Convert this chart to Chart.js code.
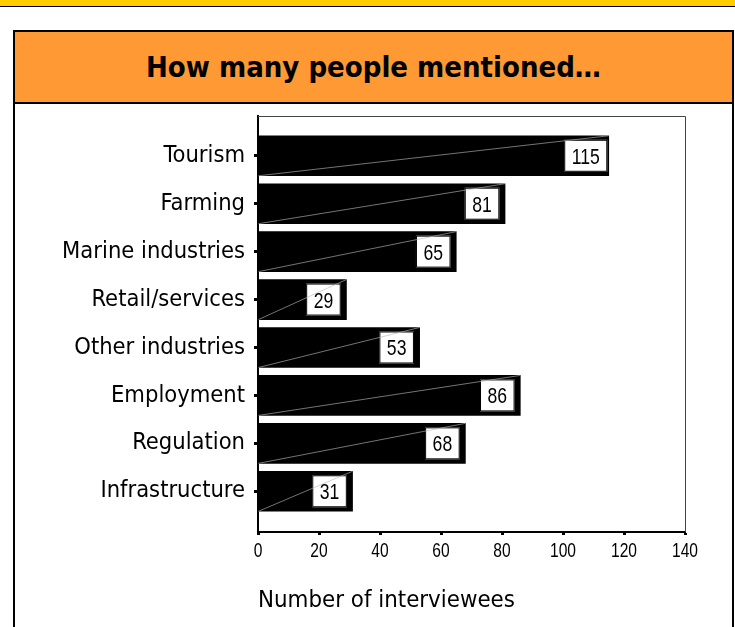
<!DOCTYPE html>
<html>
<head>
<meta charset="utf-8">
<script src="https://cdn.jsdelivr.net/npm/chart.js@4.4.1/dist/chart.umd.min.js"></script>
<style>
  body { margin: 0; width: 735px; height: 627px; overflow: hidden; background: #fff; position: relative; }
  #strip { position: absolute; left: 0; top: 0; width: 735px; height: 6px; background: #FFCC00; border-bottom: 1px solid #000; }
  #panel { position: absolute; left: 13px; top: 30px; width: 717px; height: 620px; border: 2px solid #000; border-bottom: none; }
  #header {
    position: absolute; left: 15px; top: 32px; width: 717px; height: 70px;
    background: #FF9933; border-bottom: 2px solid #000;
    display: flex; align-items: center; justify-content: center;
    font: bold 29px "DejaVu Sans Condensed", "DejaVu Sans", sans-serif; color: #000;
  }
  #wrap { position: absolute; left: 15px; top: 103px; width: 717px; height: 524px; }
  #xtitle { position: absolute; left: 258px; top: 585px; font: 23.8px "DejaVu Sans Condensed", "DejaVu Sans", sans-serif; color: #000; white-space: nowrap; }
</style>
</head>
<body>
<div id="strip"></div>
<div id="panel"></div>
<div id="header">How many people mentioned…</div>
<div id="wrap"><canvas id="chart"></canvas></div>
<div id="xtitle">Number of interviewees</div>
<script>
  const categories = ["Tourism", "Farming", "Marine industries", "Retail/services", "Other industries", "Employment", "Regulation", "Infrastructure"];
  const mentions = [115, 81, 65, 29, 53, 86, 68, 31];
  const xTicks = [0, 20, 40, 60, 80, 100, 120, 140];

  // narrow Arial-like text: Liberation Sans squeezed horizontally
  function narrowText(ctx, text, x, y, size, squeeze) {
    ctx.save();
    ctx.font = size + 'px "Liberation Sans", Arial, sans-serif';
    ctx.translate(x, y);
    ctx.scale(squeeze, 1);
    ctx.fillStyle = "#000";
    ctx.textAlign = "center";
    ctx.textBaseline = "alphabetic";
    ctx.fillText(text, 0, 0);
    ctx.restore();
  }

  const valueBoxes = {
    id: "valueBoxes",
    afterDatasetsDraw(chart) {
      const ctx = chart.ctx;
      const meta = chart.getDatasetMeta(0);
      const squeeze = 0.8;
      const size = 22;
      ctx.save();
      ctx.font = size + 'px "Liberation Sans", Arial, sans-serif';
      meta.data.forEach((bar, i) => {
        const half = bar.height / 2;
        const text = String(mentions[i]);
        const tw = ctx.measureText(text).width * squeeze;
        const cx = bar.x - 23;
        const w = tw + 15;
        const h = 32;
        ctx.fillStyle = "#fff";
        ctx.strokeStyle = "#000";
        ctx.lineWidth = 1;
        ctx.fillRect(cx - w / 2, bar.y - h / 2, w, h);
        ctx.strokeRect(cx - w / 2 + 0.5, bar.y - h / 2 + 0.5, w - 1, h - 1);
        // thin diagonal line across the bar
        ctx.strokeStyle = "rgba(185,185,185,0.9)";
        ctx.lineWidth = 0.7;
        ctx.beginPath();
        ctx.moveTo(bar.base, bar.y + half);
        ctx.lineTo(bar.x, bar.y - half);
        ctx.stroke();
        narrowText(ctx, text, cx, bar.y + 8, size, squeeze);
      });
      ctx.restore();
    },
    afterDraw(chart) {
      const a = chart.chartArea;
      const ctx = chart.ctx;
      ctx.save();
      ctx.strokeStyle = "#444";
      ctx.lineWidth = 1;
      ctx.beginPath();
      ctx.moveTo(a.left, a.top + 0.5);
      ctx.lineTo(a.right + 0.5, a.top + 0.5);
      ctx.lineTo(a.right + 0.5, a.bottom);
      ctx.stroke();
      ctx.restore();
      // x tick labels
      const xs = chart.scales.x;
      xTicks.forEach((v) => {
        narrowText(ctx, String(v), xs.getPixelForValue(v), a.bottom + 25, 19.5, 0.8);
      });
    },
  };

  new Chart(document.getElementById("chart").getContext("2d"), {
    type: "bar",
    data: {
      datasets: [
        {
          data: mentions.map((v, i) => ({ x: v, y: i })),
          backgroundColor: "#000",
          borderWidth: 0,
          barThickness: 40,
        },
      ],
    },
    options: {
      indexAxis: "y",
      responsive: true,
      maintainAspectRatio: false,
      animation: false,
      layout: { padding: { top: 13, right: 47, left: 0, bottom: 0 } },
      plugins: {
        legend: { display: false },
        tooltip: { enabled: false },
      },
      scales: {
        x: {
          type: "linear",
          min: 0,
          max: 140,
          afterFit(scale) {
            scale.height = 95;
            scale.paddingLeft = 0;
            scale.paddingRight = 0;
          },
          afterBuildTicks(scale) { scale.ticks = xTicks.map((v) => ({ value: v })); },
          grid: { drawOnChartArea: false, color: "#000", tickLength: 3, tickWidth: 3 },
          border: { color: "#000", width: 2 },
          ticks: { display: false },
        },
        y: {
          type: "linear",
          reverse: true,
          offset: false,
          min: -0.83,
          max: 7.85,
          afterFit(scale) {
            scale.width = 243;
            scale.paddingTop = 0;
            scale.paddingBottom = 0;
          },
          afterBuildTicks(scale) { scale.ticks = categories.map((c, i) => ({ value: i })); },
          grid: { offset: false, drawOnChartArea: false, color: "#000", tickLength: 4, tickWidth: 3 },
          border: { color: "#000", width: 2 },
          ticks: {
            color: "#000",
            padding: 9,
            autoSkip: false,
            font: { family: '"DejaVu Sans Condensed", "DejaVu Sans", sans-serif', size: 23.5 },
            callback: (v) => categories[v],
          },
        },
      },
    },
    plugins: [valueBoxes],
  });
</script>
</body>
</html>
